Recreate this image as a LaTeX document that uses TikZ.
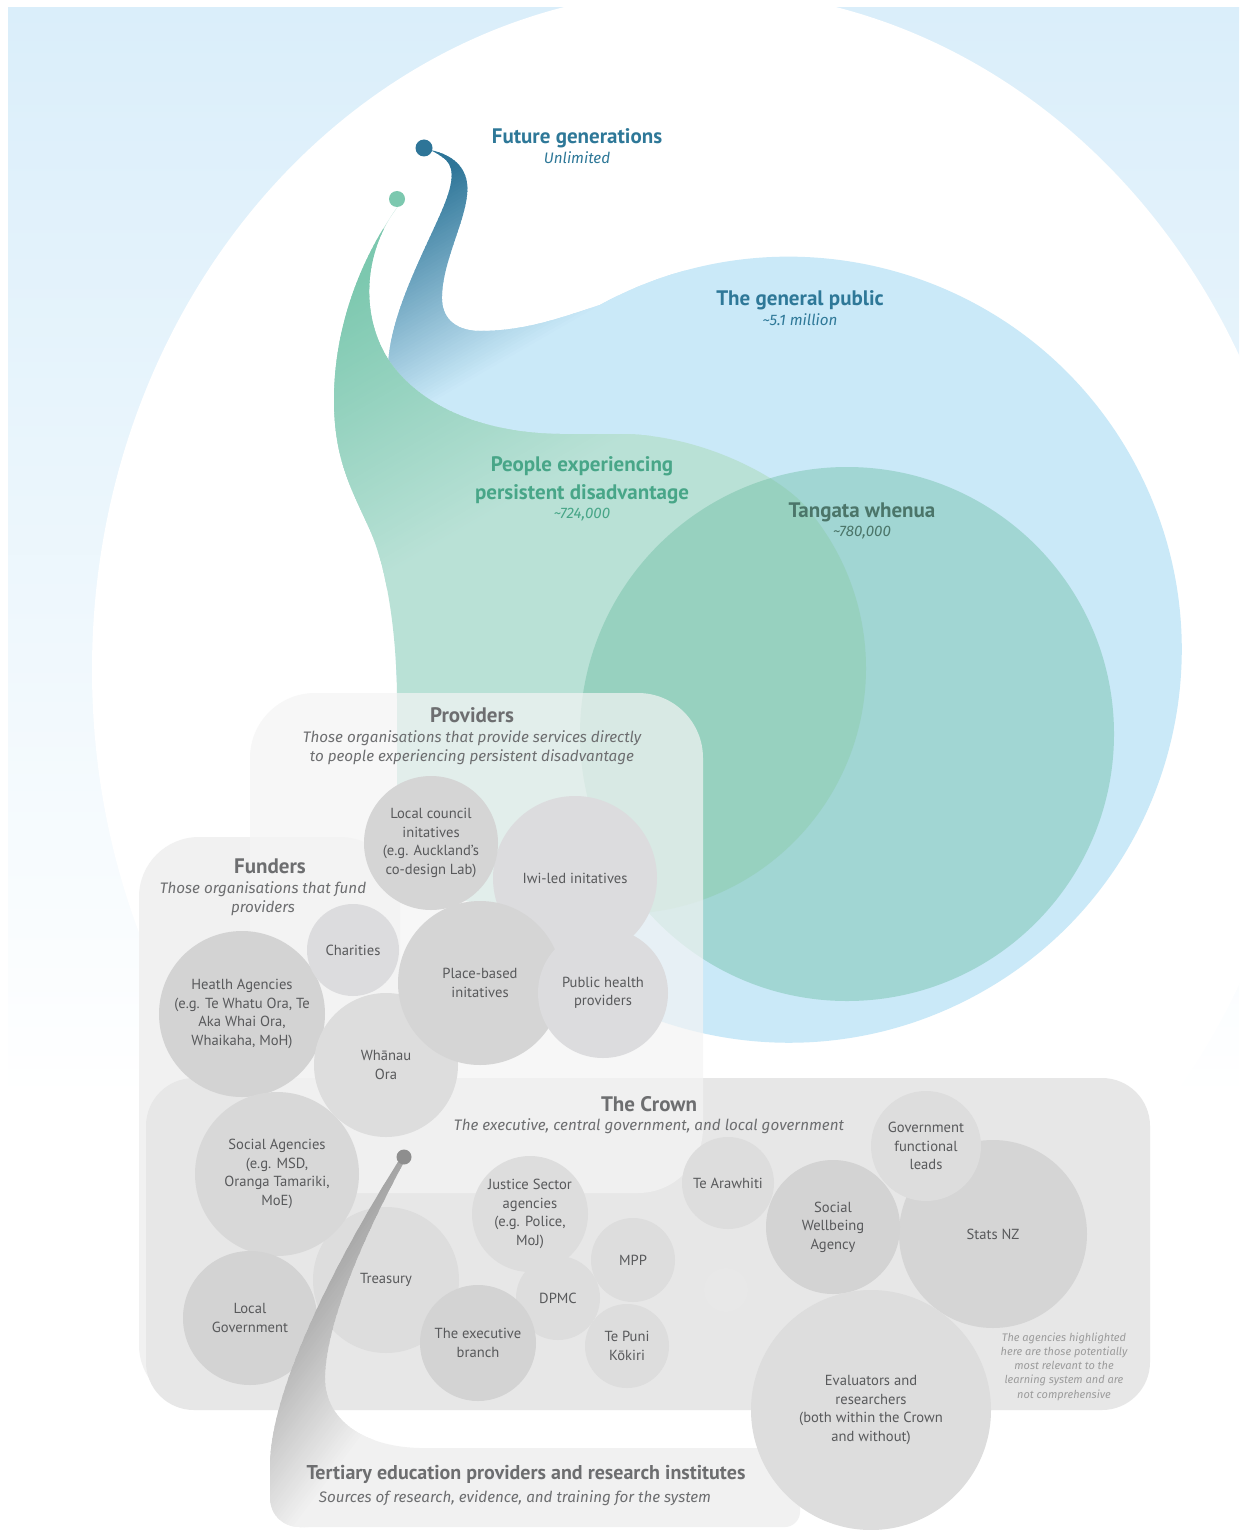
\documentclass[tikz,border=0pt]{standalone}
\usepackage{fontspec}
\setmainfont{PT Sans}
\newfontfamily\titlefont{PT Sans}
\newfontfamily\subfont{Fira Sans}
\usetikzlibrary{shadings}
\definecolor{bgblue}{HTML}{DAEEFA}
\definecolor{bgmid}{HTML}{E7F4FC}
\definecolor{bluelight}{HTML}{CAE9F8}
\definecolor{bluedark}{HTML}{2E7598}
\definecolor{greenlight}{HTML}{B9E1D6}
\definecolor{greendark}{HTML}{7CC8AF}
\definecolor{tangata}{HTML}{69BCA0}
\definecolor{crownfill}{HTML}{E7E7E7}
\definecolor{provfill}{HTML}{F4F4F4}
\definecolor{fundfill}{HTML}{F1F1F1}
\definecolor{tertfill}{HTML}{F1F1F1}
\definecolor{tertdark}{HTML}{A4A4A4}
\definecolor{txtblue}{HTML}{2E7898}
\definecolor{txtgreen}{HTML}{48A688}
\definecolor{txttang}{HTML}{4B7569}
\definecolor{txtgrey}{HTML}{6D6E70}
\definecolor{circtxt}{HTML}{58595B}
\definecolor{notetxt}{HTML}{9C9C9C}
\definecolor{tertdot}{HTML}{8E8E8E}
\definecolor{cA}{HTML}{D3D3D3}
\definecolor{cB}{HTML}{D5D5D5}
\definecolor{cC}{HTML}{D8D8D8}
\definecolor{cD}{HTML}{DCDCDE}
\definecolor{cE}{HTML}{DDDDDD}
\definecolor{cF}{HTML}{E9E9E9}
\def\bluepath{(430,150) .. controls (455,155) and (470,170) .. (467,195) .. controls (464,225) and (441,265) .. (442,300) .. controls (443,322) and (460,331) .. (480,331) .. controls (525,331) and (560,318) .. (600,305) arc[start angle=241.3, end angle=540, radius=393] .. controls (394,560) and (388,440) .. (388,370) .. controls (388,320) and (420,260) .. (440,215) .. controls (452,188) and (456,170) .. (446,160) .. controls (440,155) and (435,152) .. (430,150) -- cycle}
\def\greenpath{(399,205) .. controls (366,250) and (334,320) .. (334,400) .. controls (334,460) and (352,490) .. (370,530) .. controls (388,570) and (397,640) .. (397,700) -- (397,880) .. controls (450,905) and (540,914) .. (620,914) arc[start angle=90, end angle=-41, radius=246] .. controls (779,476) and (700,434) .. (620,434) -- (560,434) .. controls (480,433) and (420,405) .. (390,362) .. controls (360,318) and (362,252) .. (399,205) -- cycle}
\def\tertpath{(404,1162) .. controls (370,1225) and (325,1320) .. (325,1380) .. controls (327,1425) and (370,1447) .. (420,1448) -- (785,1448) .. controls (793,1448) and (800,1455) .. (800,1463) -- (800,1512) .. controls (800,1520) and (793,1527) .. (785,1527) -- (300,1527) .. controls (283,1527) and (270,1515) .. (270,1497) -- (270,1463) .. controls (272,1390) and (330,1270) .. (398,1162) -- cycle}
\tikzset{
  ttl/.style={font=\titlefont\bfseries\fontsize{21}{24}\selectfont, inner sep=0, text height=14pt, text depth=0pt},
  ttlsmall/.style={font=\titlefont\bfseries\fontsize{20}{24}\selectfont, inner sep=0, text height=14pt, text depth=0pt},
  subone/.style={font=\subfont\itshape\fontsize{15.2}{19}\selectfont, inner sep=0, text height=10.5pt, text depth=0pt},
  submulti/.style={font=\subfont\itshape\fontsize{15.2}{19}\selectfont, inner sep=0, align=center},
  circ/.style={circle, inner sep=0, align=center, font=\fontsize{14.6}{18.5}\selectfont, text=circtxt},
  dotnode/.style={circle, inner sep=0, minimum size=#1},
}
\begin{document}
\begin{tikzpicture}[x=1pt,y=-1pt]
\useasboundingbox (0,0) rectangle (1239,1530);
% background
\fill[white] (0,0) rectangle (1239,1530);
\shade[top color=bgblue, middle color=bgmid, bottom color=white] (8,8) rectangle (1239,1100);
\fill[white] (700,670) ellipse[x radius=608, y radius=680];
% general public
\fill[bluelight] \bluepath;
\begin{scope}
  \clip \bluepath;
  \foreach \pp in {333,336,...,573} {
    \pgfmathsetmacro{\mfr}{max(0,min(100,(\pp-370)/1.94))}
    \pgfmathsetmacro{\mq}{\pp+4}
    \fill[bluelight!\mfr!bluedark] ({0.5*\pp+866},{0.866*\pp-500}) -- ({0.5*\pp-346.4},{0.866*\pp+200}) -- ({0.5*\mq-346.4},{0.866*\mq+200}) -- ({0.5*\mq+866},{0.866*\mq-500}) -- cycle;
  }
\end{scope}
% people experiencing persistent disadvantage
\fill[greenlight] \greenpath;
\begin{scope}
  \clip \greenpath;
  \foreach \pp in {390,393,...,699} {
    \pgfmathsetmacro{\mfr}{max(0,min(100,(\pp-420)/2.7))}
    \pgfmathsetmacro{\mq}{\pp+4}
    \fill[greenlight!\mfr!greendark] ({0.5*\pp+866},{0.866*\pp-500}) -- ({0.5*\pp-346.4},{0.866*\pp+200}) -- ({0.5*\mq-346.4},{0.866*\mq+200}) -- ({0.5*\mq+866},{0.866*\mq-500}) -- cycle;
  }
\end{scope}
% tangata whenua
\fill[tangata, fill opacity=0.42] (847,734) circle[radius=267];
% dots
\node[dotnode=17, fill=bluedark] (fgdot) at (424,148) {};
\node[dotnode=16, fill=greendark] (pdot) at (397,199) {};
% boxes
\fill[fundfill, rounded corners=60] (139,837) rectangle (400,1405);
\fill[crownfill, rounded corners=48] (146,1078) rectangle (1150,1410);
\fill[provfill, fill opacity=0.7, rounded corners=65] (250,693) rectangle (703,1193);
% funders / providers circles
\node[circ, fill=cA, minimum size=166] (health) at (242,1014) {Heatlh Agencies\\(e.g. Te Whatu Ora, Te\\Aka Whai Ora,\\Whaikaha, MoH)};
\node[circ, fill=cE, minimum size=144] (whanau) at (386,1065) {Whānau\\Ora};
\node[circ, fill=cD, minimum size=92] (charities) at (353,950) {Charities};
\node[circ, fill=cD, minimum size=164] (iwi) at (575,878) {Iwi-led initatives};
\node[circ, fill=cB, minimum size=134] (council) at (431,843) {Local council\\initatives\\(e.g. Auckland’s\\co-design Lab)};
\node[circ, fill=cB, minimum size=164] (place) at (480,983) {Place-based\\initatives};
\node[circ, fill=cD, minimum size=130] (pubhealth) at (603,993) {Public health\\providers};
% crown circles
\node[circ, fill=cE, minimum size=146] (treasury) at (386,1280) {Treasury};
\node[circ, fill=cC, minimum size=164] (social) at (277,1174) {Social Agencies\\(e.g. MSD,\\Oranga Tamariki,\\MoE)};
\node[circ, fill=cA, minimum size=134] (localgov) at (250,1318) {Local\\Government};
\node[circ, fill=cE, minimum size=84] (dpmc) at (558,1298) {DPMC};
\node[circ, fill=cE, minimum size=116] (justice) at (530,1214) {Justice Sector\\agencies\\(e.g. Police,\\MoJ)};
\node[circ, fill=cA, minimum size=116] (exec) at (478,1343) {The executive\\branch};
\node[circ, fill=cE, minimum size=84] (mpp) at (633,1260) {MPP};
\node[circ, fill=cE, minimum size=84] (tpk) at (627,1346) {Te Puni\\Kōkiri};
\node[circ, fill=cE, minimum size=92] (arawhiti) at (728,1183) {Te Arawhiti};
\node[circ, fill=cB, minimum size=188] (stats) at (993,1234) {Stats NZ};
\node[circ, fill=cA, minimum size=134] (swa) at (833,1227) {Social\\Wellbeing\\Agency};
\node[circ, fill=cE, minimum size=110] (gfl) at (926,1146) {Government\\functional\\leads};
\node[circle, fill=cF, fill opacity=0.5, minimum size=44, inner sep=0] (faint) at (726,1290) {};
% tertiary swoosh
\fill[tertfill] \tertpath;
\begin{scope}
  \clip \tertpath;
  \foreach \pp in {1000,1003,...,1160} {
    \pgfmathsetmacro{\mfr}{max(0,min(100,(\pp-1015)/1.35))}
    \pgfmathsetmacro{\mq}{\pp+4}
    \fill[tertfill!\mfr!tertdark] ({0.8*\pp-240},{0.6*\pp+320}) -- ({0.8*\pp-840},{0.6*\pp+1120}) -- ({0.8*\mq-840},{0.6*\mq+1120}) -- ({0.8*\mq-240},{0.6*\mq+320}) -- cycle;
  }
\end{scope}
\node[dotnode=15, fill=tertdot] (tdot) at (404,1157) {};
\node[circ, fill=cE, minimum size=240] (eval) at (871,1410) {Evaluators and\\researchers\\(both within the Crown\\and without)};
% texts
\node[ttl, text=txtblue] (fgT) at (577,137) {Future generations};
\node[subone, text=txtblue] (fgS) at (577,158) {Unlimited};
\node[ttl, text=txtblue] (gpT) at (800,298) {The general public};
\node[subone, text=txtblue] (gpS) at (800,320) {\textasciitilde 5.1 million};
\node[ttl, text=txtgreen] (pdT1) at (582,464) {People experiencing};
\node[ttl, text=txtgreen] (pdT2) at (582,492) {persistent disadvantage};
\node[subone, text=txtgreen] (pdS) at (582,513) {\textasciitilde 724,000};
\node[ttl, text=txttang] (twT) at (862,510) {Tangata whenua};
\node[subone, text=txttang] (twS) at (862,531) {\textasciitilde 780,000};
\node[ttl, text=txtgrey] (provT) at (472,715) {Providers};
\node[submulti, text=txtgrey] (provS) at (472,747.5) {Those organisations that provide services directly\\to people experiencing persistent disadvantage};
\node[ttl, text=txtgrey] (fundT) at (270,866) {Funders};
\node[submulti, text=txtgrey] (fundS) at (263,898.5) {Those organisations that fund\\providers};
\node[ttl, text=txtgrey] (crownT) at (649,1104) {The Crown};
\node[subone, text=txtgrey] (crownS) at (649,1125) {The executive, central government, and local government};
\node[ttlsmall, text=txtgrey] (tertT) at (526,1472) {Tertiary education providers and research institutes};
\node[subone, text=txtgrey] (tertS) at (515,1497) {Sources of research, evidence, and training for the system};
\node[font=\subfont\itshape\fontsize{11}{14.2}\selectfont, text=notetxt, align=center, inner sep=0] (note) at (1064,1366.5) {The agencies highlighted\\here are those potentially\\most relevant to the\\learning system and are\\not comprehensive};
\end{tikzpicture}
\end{document}
